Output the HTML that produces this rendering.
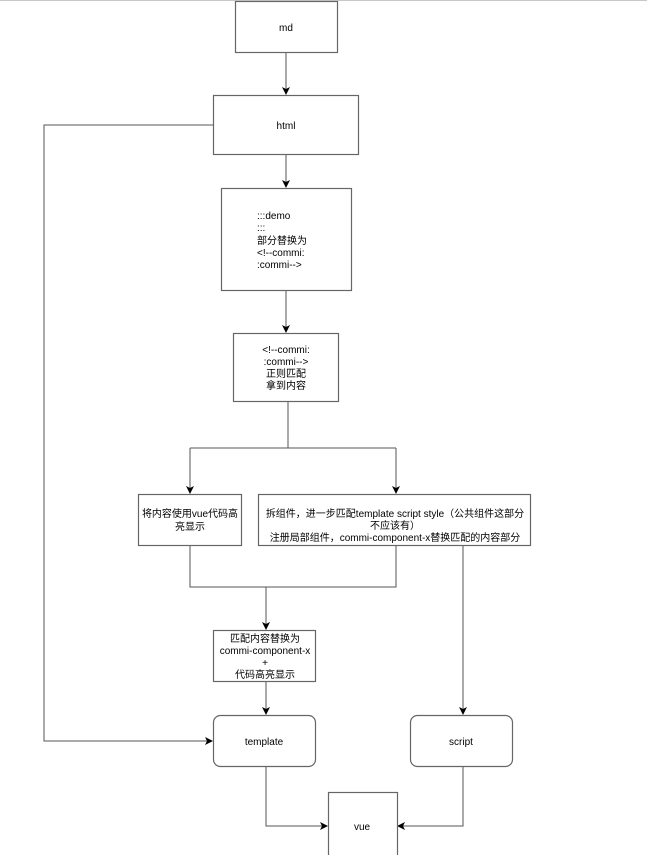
<!DOCTYPE html>
<html><head><meta charset="utf-8"><style>
body{margin:0;background:#fff;width:647px;height:855px;overflow:hidden;}
svg text{font-family:"Liberation Sans","Noto Sans CJK SC",sans-serif;font-size:10px;fill:#000;}
</style></head><body>
<svg width="647" height="855" xmlns="http://www.w3.org/2000/svg">
<defs><marker id="a" markerWidth="8" markerHeight="8" refX="7" refY="4" orient="auto" markerUnits="userSpaceOnUse"><path d="M0,0 L8,4 L0,8 L2,4 Z" fill="#000"/></marker></defs>
<line x1="0" y1="0.5" x2="647" y2="0.5" stroke="#c8c8c8"/>
<g fill="none" stroke="#555" stroke-width="1">
<line x1="286" y1="52" x2="286" y2="94" marker-end="url(#a)"/>
<line x1="286" y1="155" x2="286" y2="187" marker-end="url(#a)"/>
<line x1="286" y1="290" x2="286" y2="332" marker-end="url(#a)"/>
<polyline points="288,401 288,448"/>
<polyline points="190,448 396,448"/>
<line x1="190" y1="448" x2="190" y2="493" marker-end="url(#a)"/>
<line x1="396" y1="448" x2="396" y2="493" marker-end="url(#a)"/>
<polyline points="190,545 190,587 396,587 396,545"/>
<line x1="266" y1="587" x2="266" y2="629" marker-end="url(#a)"/>
<line x1="266" y1="681" x2="266" y2="714" marker-end="url(#a)"/>
<line x1="463" y1="545" x2="463" y2="714" marker-end="url(#a)"/>
<polyline points="213,125 44,125 44,741 212,741" marker-end="url(#a)"/>
<polyline points="266,766 266,826 327,826" marker-end="url(#a)"/>
<polyline points="463,766 463,826 398,826" marker-end="url(#a)"/>
</g>
<g fill="#fff" stroke="#666" stroke-width="1.2">
<rect x="235.5" y="1.5" width="102" height="51"/>
<rect x="213.5" y="95.5" width="145" height="59"/>
<rect x="221.5" y="188.5" width="130" height="102"/>
<rect x="233.5" y="333.5" width="105" height="68"/>
<rect x="138.5" y="494.5" width="103" height="51"/>
<rect x="258.5" y="494.5" width="272" height="51"/>
<rect x="213.5" y="630.5" width="102" height="51"/>
<rect x="213.5" y="715.5" width="102" height="51" rx="7"/>
<rect x="410.5" y="715.5" width="102" height="51" rx="7"/>
<rect x="328.5" y="792.5" width="69" height="70"/>
</g>
<g text-anchor="middle">
<text x="286" y="31">md</text>
<text x="286" y="129">html</text>
<text x="286" y="353">&lt;!--commi:</text>
<text x="286" y="365">:commi--&gt;</text>
<text x="286" y="377">正则匹配</text>
<text x="286" y="389">拿到内容</text>
<text x="190" y="517">将内容使用vue代码高</text>
<text x="190" y="530">亮显示</text>
<text x="395" y="517">拆组件，进一步匹配template script style（公共组件这部分</text>
<text x="395" y="529">不应该有）</text>
<text x="395" y="541">注册局部组件，commi-component-x替换匹配的内容部分</text>
<text x="265" y="642">匹配内容替换为</text>
<text x="265" y="654">commi-component-x</text>
<text x="265" y="666">+</text>
<text x="265" y="678">代码高亮显示</text>
<text x="264" y="745">template</text>
<text x="461" y="745">script</text>
<text x="362" y="830">vue</text>
</g>
<g>
<text x="257" y="219">:::demo</text>
<text x="257" y="231">:::</text>
<text x="257" y="244">部分替换为</text>
<text x="257" y="256">&lt;!--commi:</text>
<text x="257" y="268">:commi--&gt;</text>
</g>
</svg>
</body></html>
